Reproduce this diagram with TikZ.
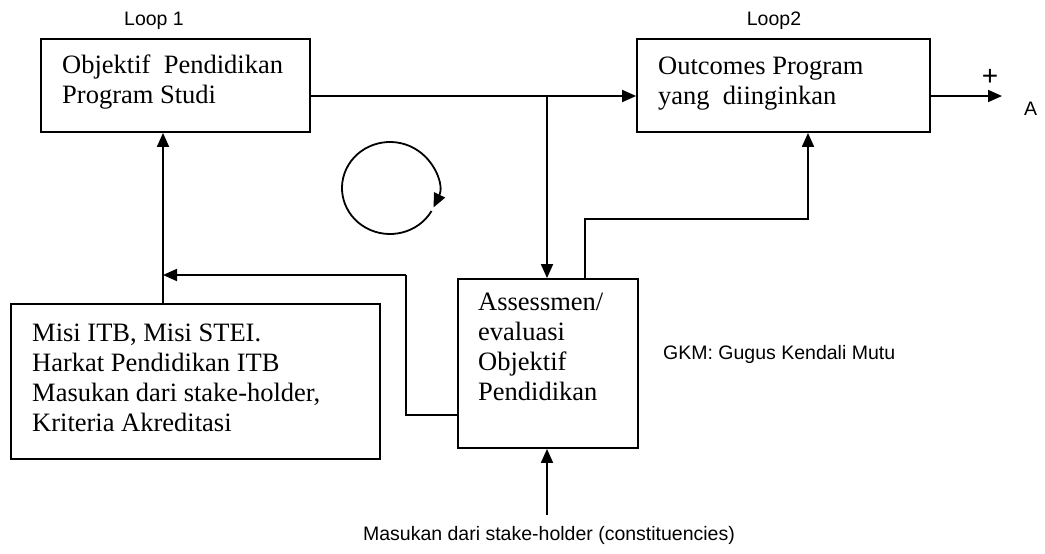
\documentclass[tikz,border=0pt]{standalone}
\usepackage{fontspec}
\setmainfont{Liberation Serif}
\newfontfamily\sansf{Liberation Sans}
\usetikzlibrary{arrows.meta}
\tikzset{
  box/.style={draw, line width=1.8pt, inner sep=0pt},
  txt/.style={anchor=north west, inner sep=0pt, align=left, font=\fontsize{26.5}{30}\selectfont},
  lbl/.style={inner sep=0pt, font=\sansf\fontsize{19.5}{22}\selectfont},
  ln/.style={line width=1.8pt},
  arr/.style={line width=1.8pt, -{Triangle[length=14pt,width=12pt]}}
}
\begin{document}
\begin{tikzpicture}[x=1pt,y=-1pt]
\path[use as bounding box] (0,0) rectangle (1045,554);
% boxes
\node[box, minimum width=269pt, minimum height=93pt] (obj) at (175.5,85.5) {};
\node[box, minimum width=293pt, minimum height=93pt] (out) at (783.5,85.5) {};
\node[box, minimum width=180pt, minimum height=169pt] (ass) at (548,363.5) {};
\node[box, minimum width=369pt, minimum height=155pt] (misi) at (195.5,381.5) {};
% box texts
\node[txt] (tobj) at (62,52) {\strut Objektif\ \ Pendidikan\\Program Studi};
\node[txt] (tout) at (658,53) {\strut Outcomes Program\\yang\ \ diinginkan};
\node[txt] (tass) at (478,289) {\strut Assessmen/\\evaluasi\\Objektif\\Pendidikan};
\node[txt] (tmisi) at (32,320) {\strut Misi ITB, Misi STEI.\\Harkat Pendidikan ITB\\Masukan dari stake-holder,\\Kriteria Akreditasi};
% labels
\node[lbl, anchor=base] (loop1) at (154,25) {Loop 1};
\node[lbl, anchor=base] (loop2) at (774,25) {Loop2};
\node[inner sep=0pt, font=\sansf\fontsize{28}{30}\selectfont] (plus) at (990,77) {+};
\node[lbl, anchor=base west] (alab) at (1024,115) {A};
\node[lbl, anchor=base west] (gkm) at (663,359) {GKM: Gugus Kendali Mutu};
\node[lbl, anchor=base] (masuk) at (549,540) {Masukan dari stake-holder (constituencies)};
% coordinates
\coordinate (j1) at (547,96);
\coordinate (r1) at (585,219);
\coordinate (r2) at (808,219);
\coordinate (f1) at (406,415);
\coordinate (f2) at (406,275);
\coordinate (f3) at (163,275);
\coordinate (b0) at (547,515);
\coordinate (o1) at (1002,96);
\coordinate (cc) at (390,188);
% connectors
\draw[arr] (obj.east |- j1) -- (out.west |- j1);
\draw[arr] (j1) -- (j1 |- ass.north);
\draw[arr] (r1 |- ass.north) -- (r1) -- (r2) -- (r2 |- out.south);
\draw[ln] (f1 -| ass.west) -- (f1) -- (f2);
\draw[arr] (f2) -- (f3);
\draw[arr] (f3 |- misi.north) -- (f3 |- obj.south);
\draw[arr] (b0) -- (b0 |- ass.south);
\draw[arr] (out.east |- o1) -- (o1);
% loop circle
\draw[arr] (cc) ++(30:48 and 46) arc[start angle=30, end angle=385, x radius=48, y radius=46];
\end{tikzpicture}
\end{document}
